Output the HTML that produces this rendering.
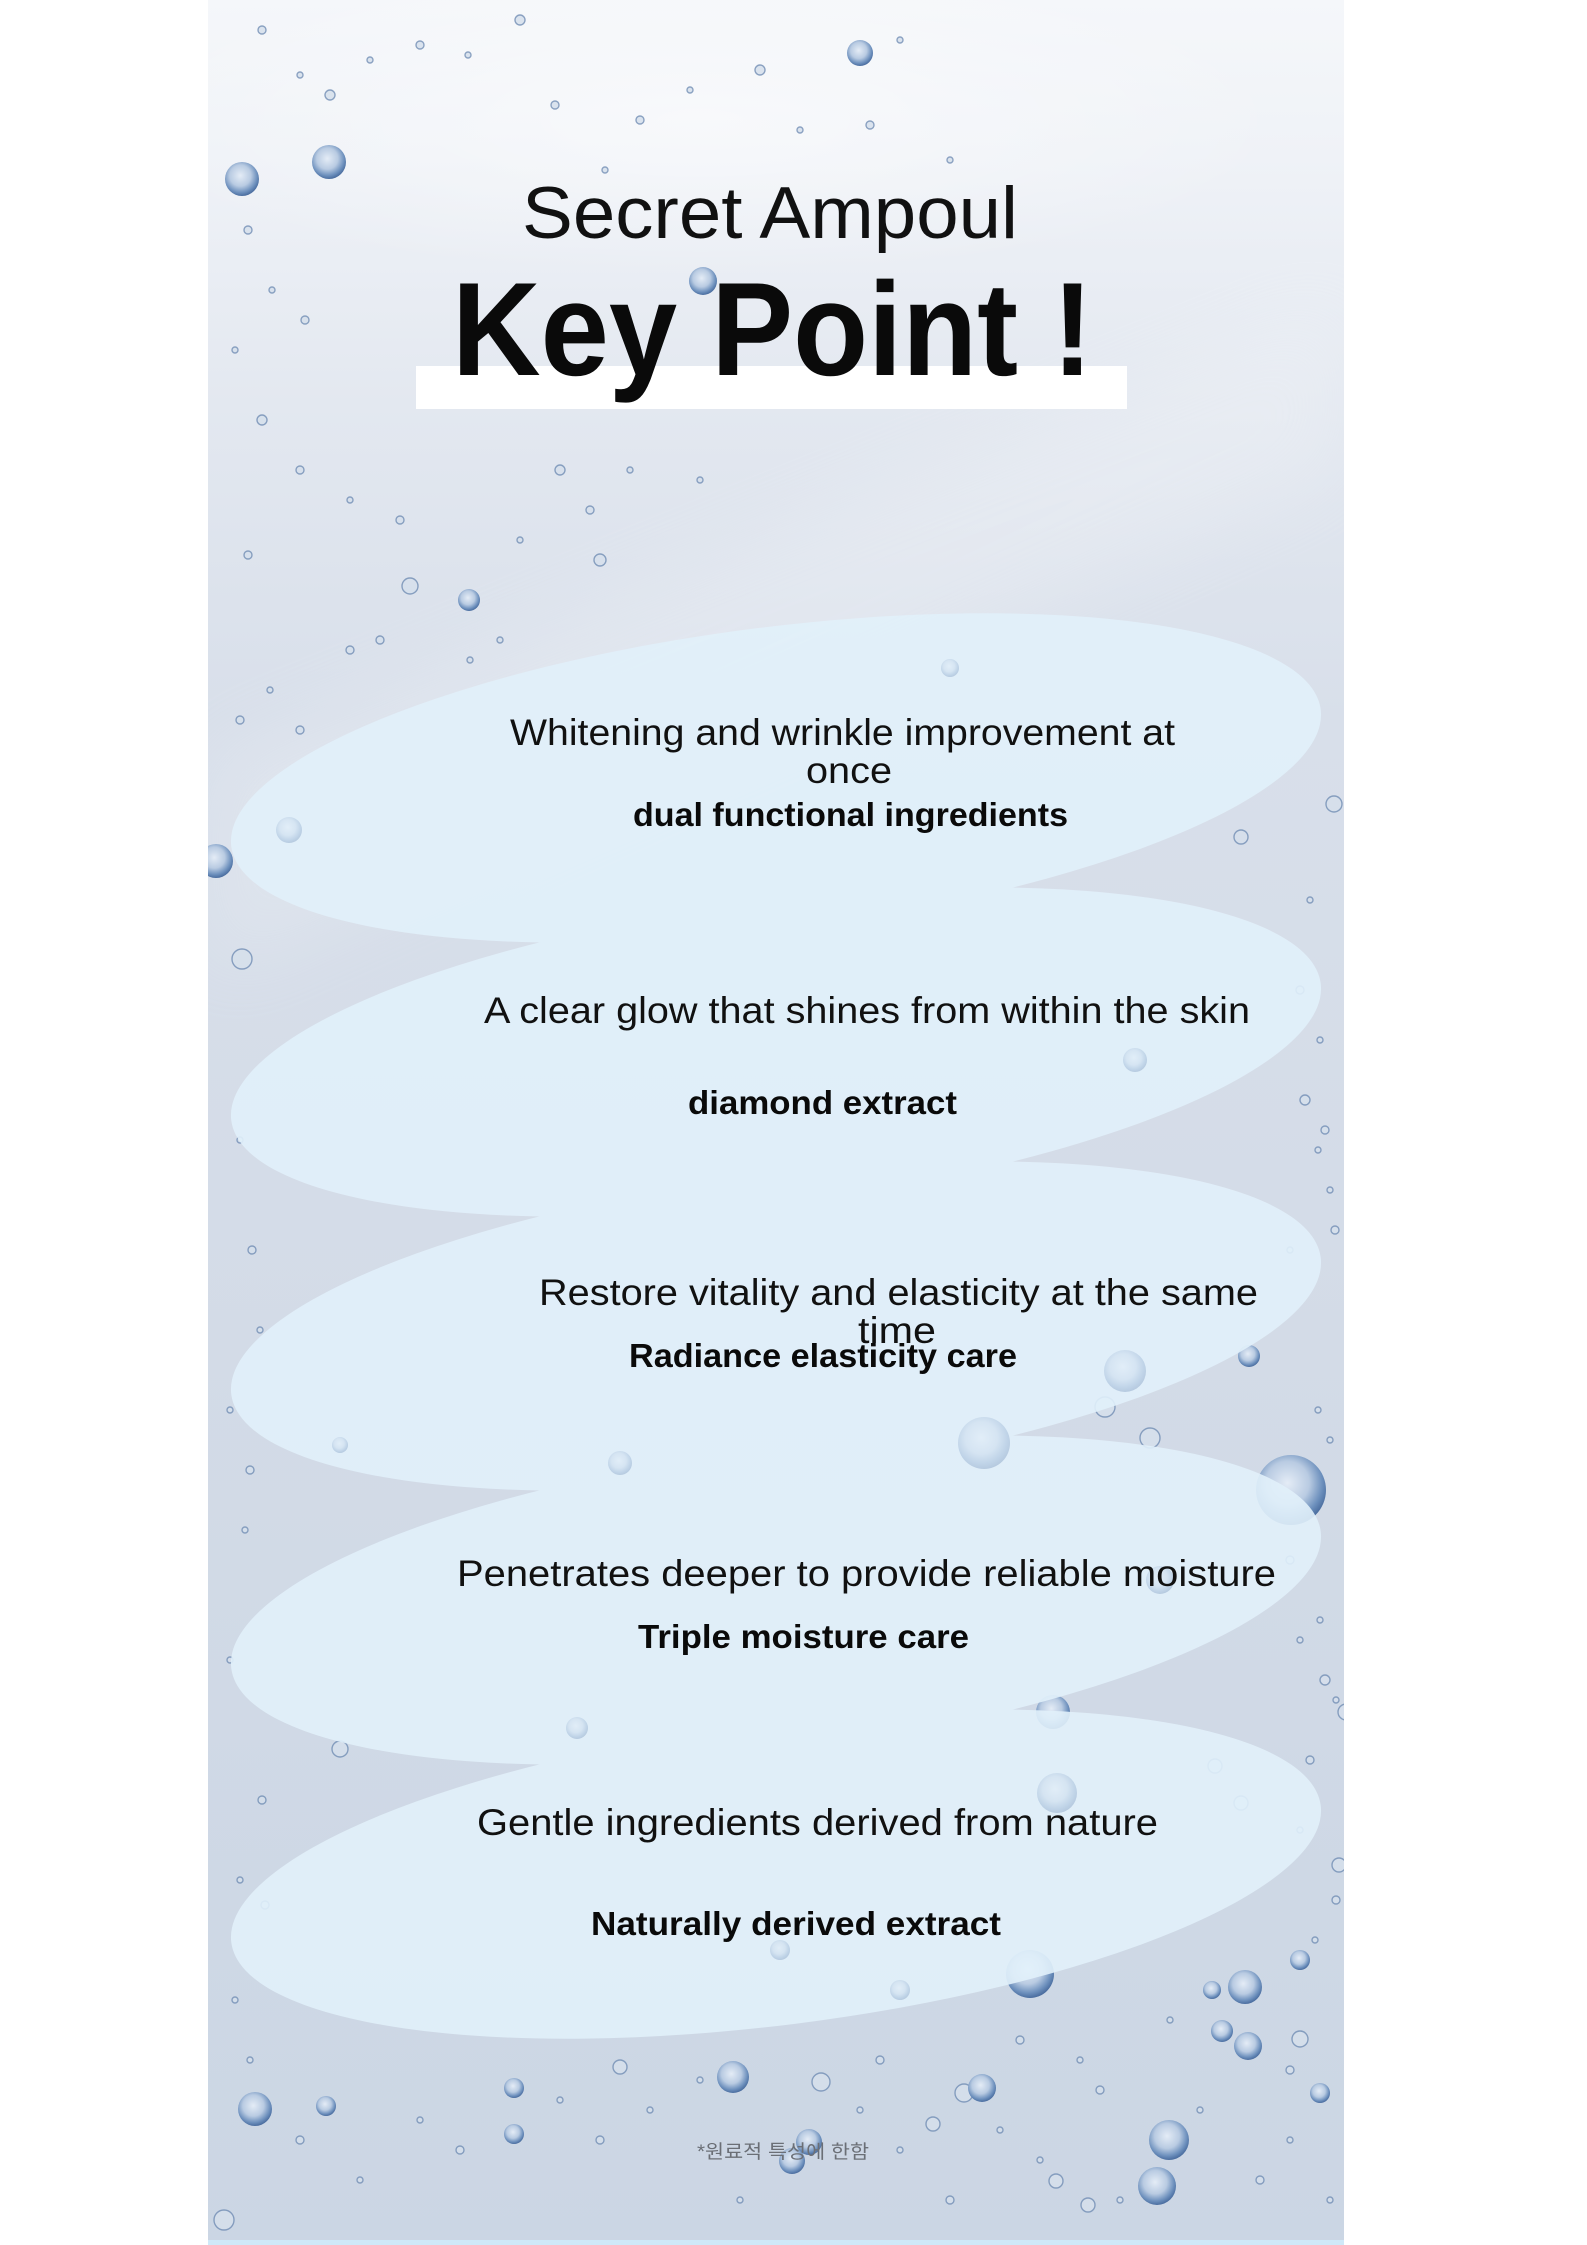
<!DOCTYPE html>
<html>
<head>
<meta charset="utf-8">
<style>
html,body{margin:0;padding:0;background:#ffffff;}
body{width:1587px;height:2245px;overflow:hidden;}
svg{display:block;}
.r{font-family:"Liberation Sans","Noto Sans CJK KR",sans-serif;fill:#111;}
.b{font-family:"Liberation Sans","Noto Sans CJK KR",sans-serif;font-weight:bold;fill:#0a0a0a;}
</style>
</head>
<body>
<svg width="1587" height="2245" viewBox="0 0 1587 2245" xmlns="http://www.w3.org/2000/svg">
  <defs>
    <linearGradient id="panel" x1="0" y1="0" x2="0" y2="1">
      <stop offset="0" stop-color="#f5f7fa"/>
      <stop offset="0.07" stop-color="#eff2f7"/>
      <stop offset="0.18" stop-color="#e3e8f0"/>
      <stop offset="0.32" stop-color="#d8dfea"/>
      <stop offset="0.6" stop-color="#d3dbe7"/>
      <stop offset="1" stop-color="#cbd6e4"/>
    </linearGradient>
    <radialGradient id="bub" cx="0.45" cy="0.4" r="0.62">
      <stop offset="0" stop-color="#e4ecf6"/>
      <stop offset="0.5" stop-color="#b9cbe2"/>
      <stop offset="0.8" stop-color="#6d90bd"/>
      <stop offset="1" stop-color="#44679a"/>
    </radialGradient>
    <radialGradient id="soft" cx="0.5" cy="0.5" r="0.5">
      <stop offset="0" stop-color="#ffffff" stop-opacity="0.5"/>
      <stop offset="1" stop-color="#ffffff" stop-opacity="0"/>
    </radialGradient>
    <clipPath id="pc"><rect x="208" y="0" width="1136" height="2245"/></clipPath>
    <filter id="blur" x="-20%" y="-20%" width="140%" height="140%"><feGaussianBlur stdDeviation="40"/></filter>
  </defs>

  <rect x="208" y="0" width="1136" height="2245" fill="url(#panel)"/>
  <g clip-path="url(#pc)">
    <polygon points="1344,300 1344,470 208,980 208,760" fill="#ffffff" opacity="0.18" filter="url(#blur)"/>
    <ellipse cx="700" cy="120" rx="600" ry="160" fill="url(#soft)"/>

    <g fill="#d6e0ec" stroke="#7893b8" stroke-width="1.4" opacity="0.85">
      <circle cx="262" cy="30" r="4"/><circle cx="300" cy="75" r="3"/><circle cx="330" cy="95" r="5"/>
      <circle cx="370" cy="60" r="3"/><circle cx="420" cy="45" r="4"/><circle cx="468" cy="55" r="3"/>
      <circle cx="520" cy="20" r="5"/><circle cx="555" cy="105" r="4"/><circle cx="605" cy="170" r="3"/>
      <circle cx="640" cy="120" r="4"/><circle cx="690" cy="90" r="3"/><circle cx="760" cy="70" r="5"/>
      <circle cx="800" cy="130" r="3"/><circle cx="870" cy="125" r="4"/><circle cx="900" cy="40" r="3"/>
      <circle cx="950" cy="160" r="3"/><circle cx="248" cy="230" r="4"/><circle cx="272" cy="290" r="3"/>
      <circle cx="305" cy="320" r="4"/><circle cx="235" cy="350" r="3"/><circle cx="262" cy="420" r="5"/>
      <circle cx="300" cy="470" r="4"/><circle cx="350" cy="500" r="3"/><circle cx="400" cy="520" r="4"/>
      <circle cx="560" cy="470" r="5"/><circle cx="590" cy="510" r="4"/><circle cx="630" cy="470" r="3"/>
      <circle cx="600" cy="560" r="6"/><circle cx="520" cy="540" r="3"/><circle cx="700" cy="480" r="3"/>
      <circle cx="248" cy="555" r="4"/><circle cx="470" cy="660" r="3"/><circle cx="500" cy="640" r="3"/>
      <circle cx="350" cy="650" r="4"/><circle cx="380" cy="640" r="4"/><circle cx="270" cy="690" r="3"/>
      <circle cx="240" cy="720" r="4"/><circle cx="300" cy="730" r="4"/>
      <circle cx="1310" cy="900" r="3"/><circle cx="1300" cy="990" r="4"/><circle cx="1320" cy="1040" r="3"/>
      <circle cx="1305" cy="1100" r="5"/><circle cx="1325" cy="1130" r="4"/><circle cx="1318" cy="1150" r="3"/>
      <circle cx="1330" cy="1190" r="3"/><circle cx="1290" cy="1250" r="3"/><circle cx="1335" cy="1230" r="4"/>
      <circle cx="1318" cy="1410" r="3"/><circle cx="1330" cy="1440" r="3"/><circle cx="1310" cy="1470" r="3"/>
      <circle cx="1290" cy="1560" r="4"/><circle cx="1320" cy="1620" r="3"/><circle cx="1300" cy="1640" r="3"/>
      <circle cx="1325" cy="1680" r="5"/><circle cx="1336" cy="1700" r="3"/><circle cx="1310" cy="1760" r="4"/>
      <circle cx="1300" cy="1830" r="3"/><circle cx="1336" cy="1900" r="4"/><circle cx="1315" cy="1940" r="3"/>
      <circle cx="240" cy="1140" r="3"/><circle cx="252" cy="1250" r="4"/><circle cx="260" cy="1330" r="3"/>
      <circle cx="230" cy="1410" r="3"/><circle cx="250" cy="1470" r="4"/><circle cx="245" cy="1530" r="3"/>
      <circle cx="230" cy="1660" r="3"/><circle cx="262" cy="1800" r="4"/><circle cx="240" cy="1880" r="3"/>
      <circle cx="265" cy="1905" r="4"/><circle cx="235" cy="2000" r="3"/><circle cx="250" cy="2060" r="3"/>
      <circle cx="300" cy="2140" r="4"/><circle cx="360" cy="2180" r="3"/><circle cx="420" cy="2120" r="3"/>
      <circle cx="460" cy="2150" r="4"/><circle cx="560" cy="2100" r="3"/><circle cx="600" cy="2140" r="4"/>
      <circle cx="650" cy="2110" r="3"/><circle cx="700" cy="2080" r="3"/><circle cx="740" cy="2200" r="3"/>
      <circle cx="880" cy="2060" r="4"/><circle cx="900" cy="2150" r="3"/><circle cx="950" cy="2200" r="4"/>
      <circle cx="1000" cy="2130" r="3"/><circle cx="1040" cy="2160" r="3"/><circle cx="1100" cy="2090" r="4"/>
      <circle cx="1120" cy="2200" r="3"/><circle cx="1200" cy="2110" r="3"/><circle cx="1260" cy="2180" r="4"/>
      <circle cx="1290" cy="2140" r="3"/><circle cx="1330" cy="2200" r="3"/><circle cx="1080" cy="2060" r="3"/>
      <circle cx="860" cy="2110" r="3"/><circle cx="1020" cy="2040" r="4"/><circle cx="1170" cy="2020" r="3"/>
      <circle cx="1290" cy="2070" r="4"/><circle cx="1241" cy="837" r="7"/><circle cx="1334" cy="804" r="8"/>
      <circle cx="1215" cy="1766" r="7"/><circle cx="1241" cy="1803" r="7"/><circle cx="1339" cy="1865" r="7"/>
      <circle cx="1150" cy="1438" r="10"/><circle cx="1105" cy="1407" r="10"/><circle cx="340" cy="1749" r="8"/>
      <circle cx="1346" cy="1712" r="8"/><circle cx="1300" cy="2039" r="8"/><circle cx="933" cy="2124" r="7"/>
      <circle cx="620" cy="2067" r="7"/><circle cx="1056" cy="2181" r="7"/><circle cx="1088" cy="2205" r="7"/>
      <circle cx="410" cy="586" r="8"/><circle cx="242" cy="959" r="10"/><circle cx="821" cy="2082" r="9"/>
      <circle cx="964" cy="2093" r="9"/><circle cx="224" cy="2220" r="10"/>
    </g>

    <g fill="url(#bub)">
      <circle cx="329" cy="162" r="17"/><circle cx="242" cy="179" r="17"/><circle cx="860" cy="53" r="13"/>
      <circle cx="703" cy="281" r="14"/><circle cx="469" cy="600" r="11"/><circle cx="216" cy="861" r="17"/>
      <circle cx="1249" cy="1356" r="11"/><circle cx="1291" cy="1490" r="35"/><circle cx="1053" cy="1712" r="17"/>
      <circle cx="1030" cy="1974" r="24"/><circle cx="1245" cy="1987" r="17"/><circle cx="1248" cy="2046" r="14"/>
      <circle cx="1222" cy="2031" r="11"/><circle cx="1320" cy="2093" r="10"/><circle cx="255" cy="2109" r="17"/>
      <circle cx="326" cy="2106" r="10"/><circle cx="514" cy="2088" r="10"/><circle cx="514" cy="2134" r="10"/>
      <circle cx="733" cy="2077" r="16"/><circle cx="982" cy="2088" r="14"/><circle cx="1169" cy="2140" r="20"/>
      <circle cx="1157" cy="2186" r="19"/><circle cx="809" cy="2142" r="13"/><circle cx="792" cy="2161" r="13"/>
      <circle cx="1300" cy="1960" r="10"/><circle cx="1212" cy="1990" r="9"/>
    </g>
  </g>

  <g fill="#e2f1fb" opacity="0.9">
    <ellipse cx="776" cy="778" rx="549" ry="151" transform="rotate(-7.16 776 778)"/>
    <ellipse cx="776" cy="1052" rx="549" ry="151" transform="rotate(-7.16 776 1052)"/>
    <ellipse cx="776" cy="1326" rx="549" ry="151" transform="rotate(-7.16 776 1326)"/>
    <ellipse cx="776" cy="1600" rx="549" ry="151" transform="rotate(-7.16 776 1600)"/>
    <ellipse cx="776" cy="1874" rx="549" ry="151" transform="rotate(-7.16 776 1874)"/>
  </g>

  <g fill="url(#bub)" opacity="0.28">
    <circle cx="289" cy="830" r="13"/><circle cx="1125" cy="1371" r="21"/><circle cx="984" cy="1443" r="26"/>
    <circle cx="577" cy="1728" r="11"/><circle cx="1057" cy="1793" r="20"/><circle cx="950" cy="668" r="9"/>
    <circle cx="1135" cy="1060" r="12"/><circle cx="620" cy="1463" r="12"/><circle cx="1160" cy="1580" r="14"/>
    <circle cx="780" cy="1950" r="10"/><circle cx="340" cy="1445" r="8"/><circle cx="900" cy="1990" r="10"/>
  </g>

  <rect x="208" y="2240" width="1136" height="5" fill="#cfe9f8"/>

  <rect x="416" y="366" width="711" height="43" fill="#ffffff"/>
  <text class="r" x="522" y="238" font-size="73" textLength="496" lengthAdjust="spacingAndGlyphs">Secret Ampoul</text>
  <text class="b" x="452" y="375" font-size="133" textLength="641" lengthAdjust="spacingAndGlyphs">Key Point !</text>

  <text class="r" x="510" y="745" font-size="37" textLength="665" lengthAdjust="spacingAndGlyphs">Whitening and wrinkle improvement at</text>
  <text class="r" x="806" y="783" font-size="37" textLength="86" lengthAdjust="spacingAndGlyphs">once</text>
  <text class="b" x="633" y="826" font-size="33" textLength="435" lengthAdjust="spacingAndGlyphs">dual functional ingredients</text>

  <text class="r" x="484" y="1023" font-size="37" textLength="766" lengthAdjust="spacingAndGlyphs">A clear glow that shines from within the skin</text>
  <text class="b" x="688" y="1114" font-size="33" textLength="269" lengthAdjust="spacingAndGlyphs">diamond extract</text>

  <text class="r" x="539" y="1305" font-size="37" textLength="719" lengthAdjust="spacingAndGlyphs">Restore vitality and elasticity at the same</text>
  <text class="r" x="858" y="1343" font-size="37" textLength="78" lengthAdjust="spacingAndGlyphs">time</text>
  <text class="b" x="629" y="1367" font-size="33" textLength="388" lengthAdjust="spacingAndGlyphs">Radiance elasticity care</text>

  <text class="r" x="457" y="1586" font-size="37" textLength="819" lengthAdjust="spacingAndGlyphs">Penetrates deeper to provide reliable moisture</text>
  <text class="b" x="638" y="1648" font-size="33" textLength="331" lengthAdjust="spacingAndGlyphs">Triple moisture care</text>

  <text class="r" x="477" y="1835" font-size="37" textLength="681" lengthAdjust="spacingAndGlyphs">Gentle ingredients derived from nature</text>
  <text class="b" x="591" y="1935" font-size="33" textLength="410" lengthAdjust="spacingAndGlyphs">Naturally derived extract</text>

  <text x="697" y="2158" font-size="19" fill="#6b6f76" font-family="'Liberation Sans','Noto Sans CJK KR',sans-serif" textLength="172" lengthAdjust="spacingAndGlyphs">*원료적 특성에 한함</text>
</svg>
</body>
</html>
